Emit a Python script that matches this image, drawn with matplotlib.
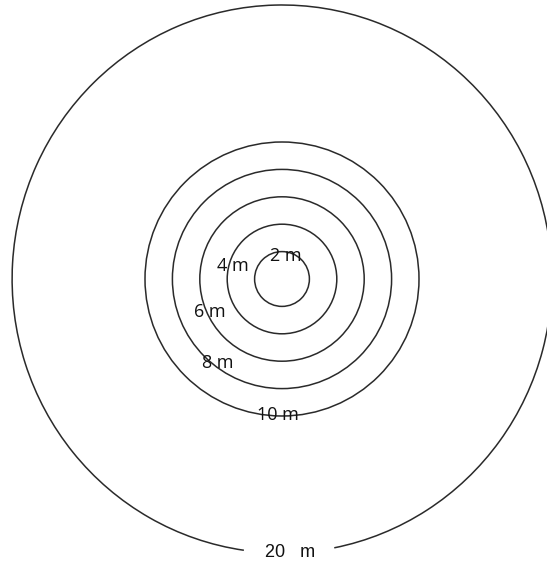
import matplotlib
matplotlib.use("Agg")
import matplotlib.pyplot as plt
from matplotlib.patches import Circle, Arc

radii = [2, 4, 6, 8, 10]
labels = ["2 m", "4 m", "6 m", "8 m", "10 m"]
outer_radius = 20
outer_label = "20   m"

# label positions (m, relative to centre)
label_pos = [(0.29, 1.68), (-3.58, 0.95), (-5.26, -2.41), (-4.67, -6.13), (-0.29, -9.93)]
outer_label_pos = (0.58, -19.93)

W, H = 547, 565
scale = 13.7  # px per metre
cx, cy = 282, 279  # centre in px from top-left

fig = plt.figure(figsize=(W / 100, H / 100), dpi=100)
ax = fig.add_axes([0, 0, 1, 1])
ax.set_xlim(-cx / scale, (W - cx) / scale)
ax.set_ylim(-(H - cy) / scale, cy / scale)
ax.axis("off")

lc = "#2a2a2a"
for r in radii:
    ax.add_patch(Circle((0, 0), r, fill=False, ec=lc, lw=1.1))

ax.add_patch(Arc((0, 0), 2 * outer_radius * 0.985, 2 * outer_radius, theta1=281, theta2=262,
                 ec=lc, lw=1.1))

for (x, y), t in zip(label_pos, labels):
    ax.text(x, y, t, ha="center", va="center", fontsize=13, family="Open Sans", color="#111111")
ax.text(outer_label_pos[0], outer_label_pos[1], outer_label, ha="center", va="center",
        fontsize=13, family="Liberation Sans", color="#111111")

fig.savefig("out.png", dpi=100)
